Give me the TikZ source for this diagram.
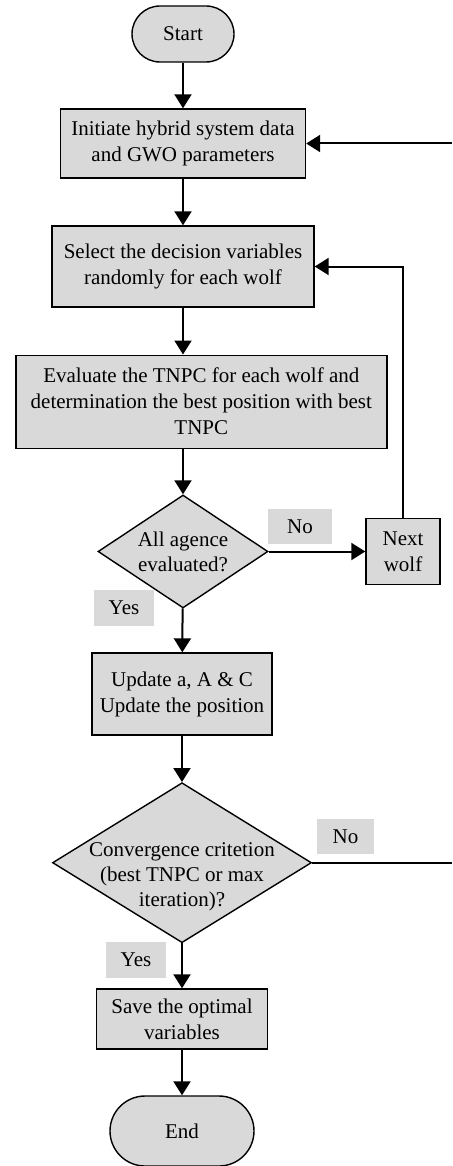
\documentclass[tikz,border=0pt]{standalone}
\usepackage{fontspec}
\setmainfont{Liberation Serif}
\usetikzlibrary{calc,positioning,arrows.meta,shapes.geometric}

\begin{document}
\begin{tikzpicture}[
  x=0.5pt, y=-0.5pt,
  terminal/.style={rectangle, draw, fill=black!15, line width=0.7pt,
    font=\fontsize{10.5}{13}\selectfont, inner sep=2pt},
  process/.style={rectangle, draw, fill=black!15, line width=0.7pt,
    font=\fontsize{10.5}{13}\selectfont, inner sep=2pt, align=center},
  decision/.style={diamond, draw, fill=black!15, line width=0.7pt,
    inner sep=0pt},
  answer/.style={rectangle, fill=black!15, inner sep=0pt,
    font=\fontsize{10.5}{13}\selectfont},
  every edge/.style={draw, line width=1pt, -{Triangle[length=7pt, width=8.5pt]}},
  flow/.style={draw, line width=1pt, -{Triangle[length=7pt, width=8.5pt]}},
]
  \useasboundingbox (0,0) rectangle (452,1166);

  % === MAIN COLUMN ===
  \node[terminal, rounded corners=14pt, minimum width=51pt, minimum height=28pt]
    (start) at (183,34) {Start};
  \node[process, minimum width=122.5pt, minimum height=34.5pt]
    (init) at (183,143.5) {Initiate hybrid system data\\and GWO parameters};
  \node[process, minimum width=131pt, minimum height=40.5pt]
    (select) at (183,266.5) {Select the decision variables\\randomly for each wolf};
  \node[process, minimum width=185.5pt, minimum height=46.5pt]
    (eval) at (201.3,401.7) {Evaluate the TNPC for each wolf and\\determination the best position with best\\TNPC};
  \node[decision, minimum width=85pt, minimum height=56.5pt,
    label={[font=\fontsize{10.5}{12.5}\selectfont, align=center]center:{All agence\\evaluated?}}]
    (agents) at (183,551.5) {};
  \node[process, minimum width=90pt, minimum height=41pt]
    (update) at (182,694) {Update a, A \& C\\Update the position};
  \node[decision, minimum width=129.5pt, minimum height=80pt,
    label={[font=\fontsize{10.5}{12.5}\selectfont, align=center, yshift=-7pt]center:{Convergence critetion\\(best TNPC or max\\iteration)?}}]
    (conv) at (182,862.7) {};
  \node[process, minimum width=85.5pt, minimum height=30pt]
    (save) at (182,1019) {Save the optimal\\variables};
  \node[terminal, rounded corners=17.5pt, minimum width=72pt, minimum height=35pt]
    (end) at (182,1131) {End};

  % === SIDE BOX ===
  \node[process, minimum width=37pt, minimum height=33pt]
    (wolf) at (403,551.5) {Next\\wolf};

  % === Yes / No tags ===
  \node[answer, minimum width=32pt, minimum height=17.5pt] (no1) at (300,526.5) {No};
  \node[answer, minimum width=30pt, minimum height=18pt] (yes1) at (124,608) {Yes};
  \node[answer, minimum width=28.5pt, minimum height=17.5pt] (no2) at (345.5,836.5) {No};
  \node[answer, minimum width=30pt, minimum height=18pt] (yes2) at (136,960) {Yes};

  % === loop ends (cut at the right border) ===
  \coordinate (loopin) at (452,143.5);
  \coordinate (loopout) at (452,862.7);

  % === Main flow ===
  \path (start)  edge (init);
  \path (init)   edge (select);
  \path (select) edge (select.south |- eval.north);
  \path (agents |- eval.south) edge (agents);
  \path (agents) edge (update);
  \path (update) edge (conv);
  \path (conv)   edge (save);
  \path (save)   edge (end);

  % === Inner loop ===
  \path (agents) edge (wolf);
  \draw[flow] (wolf.north) |- (select.east);

  % === Outer loop ===
  \draw[line width=1pt] (conv.east) -- (loopout);
  \path (loopin) edge (init);

\end{tikzpicture}
\end{document}
